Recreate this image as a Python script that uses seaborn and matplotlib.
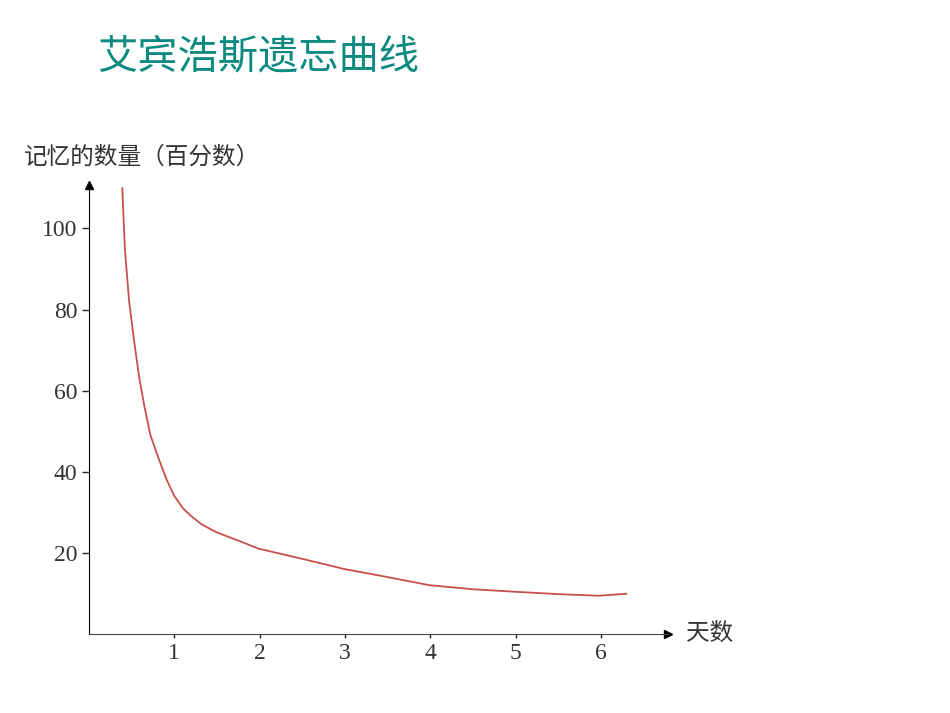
import matplotlib
matplotlib.use("Agg")
import matplotlib.pyplot as plt
import seaborn as sns
import pandas as pd

days = [0.39, 0.42, 0.47, 0.53, 0.59, 0.65, 0.72, 0.82, 0.91, 1.0, 1.1, 1.2, 1.32, 1.5, 1.75, 1.99, 2.5, 2.99, 3.5, 3.99, 4.5, 4.98, 5.5, 5.97, 6.3]
memory = [110, 95, 82, 72, 63, 56, 49, 43, 38, 34, 31, 29, 27, 25, 23, 21, 18.5, 16, 14, 12, 11, 10.4, 9.8, 9.4, 9.9]
xticks = [1, 2, 3, 4, 5, 6]
yticks = [20, 40, 60, 80, 100]

sns.set_style("white")
plt.rcParams['font.family'] = ['Noto Sans CJK SC', 'DejaVu Sans']

fig = plt.figure(figsize=(9.5, 7.13), dpi=100)
ax = fig.add_axes([0.0937, 0.111, 0.609, 0.63])
df = pd.DataFrame({"x": days, "y": memory})
sns.lineplot(data=df, x="x", y="y", ax=ax, color="#c8504a", linewidth=1.3)

ax.set_xlim(0, 6.78)
ax.set_ylim(0, 110.8)
for s in ["top", "right"]:
    ax.spines[s].set_visible(False)
ax.spines["left"].set_color("black")
ax.spines["bottom"].set_color("#444444")
ax.spines["bottom"].set_linestyle((0, (1, 1)))
ax.plot(1, 0, ">k", transform=ax.transAxes, clip_on=False, markersize=6)
ax.plot(0, 1, "^k", transform=ax.transAxes, clip_on=False, markersize=6)

ax.set_xticks(xticks)
ax.set_yticks(yticks)
ax.set_xticklabels([str(t) for t in xticks], family="Liberation Serif", fontsize=17, color="#333333")
ax.set_yticklabels([str(t) for t in yticks], family="Liberation Serif", fontsize=17, color="#333333")
ax.tick_params(axis="y", direction="out", length=5, width=1, left=True)
ax.tick_params(axis="x", direction="out", length=3, width=1, bottom=True)
ax.set_xlabel("")
ax.set_ylabel("")

fig.text(0.102, 0.92, "艾宾浩斯遗忘曲线", fontsize=29, color="#0d8a80", va="center")
fig.text(0.025, 0.78, "记忆的数量（百分数）", fontsize=17, color="#333333", va="center")
fig.text(0.722, 0.111, "天数", fontsize=17, color="#333333", va="center")

fig.savefig("out.png", dpi=100)
